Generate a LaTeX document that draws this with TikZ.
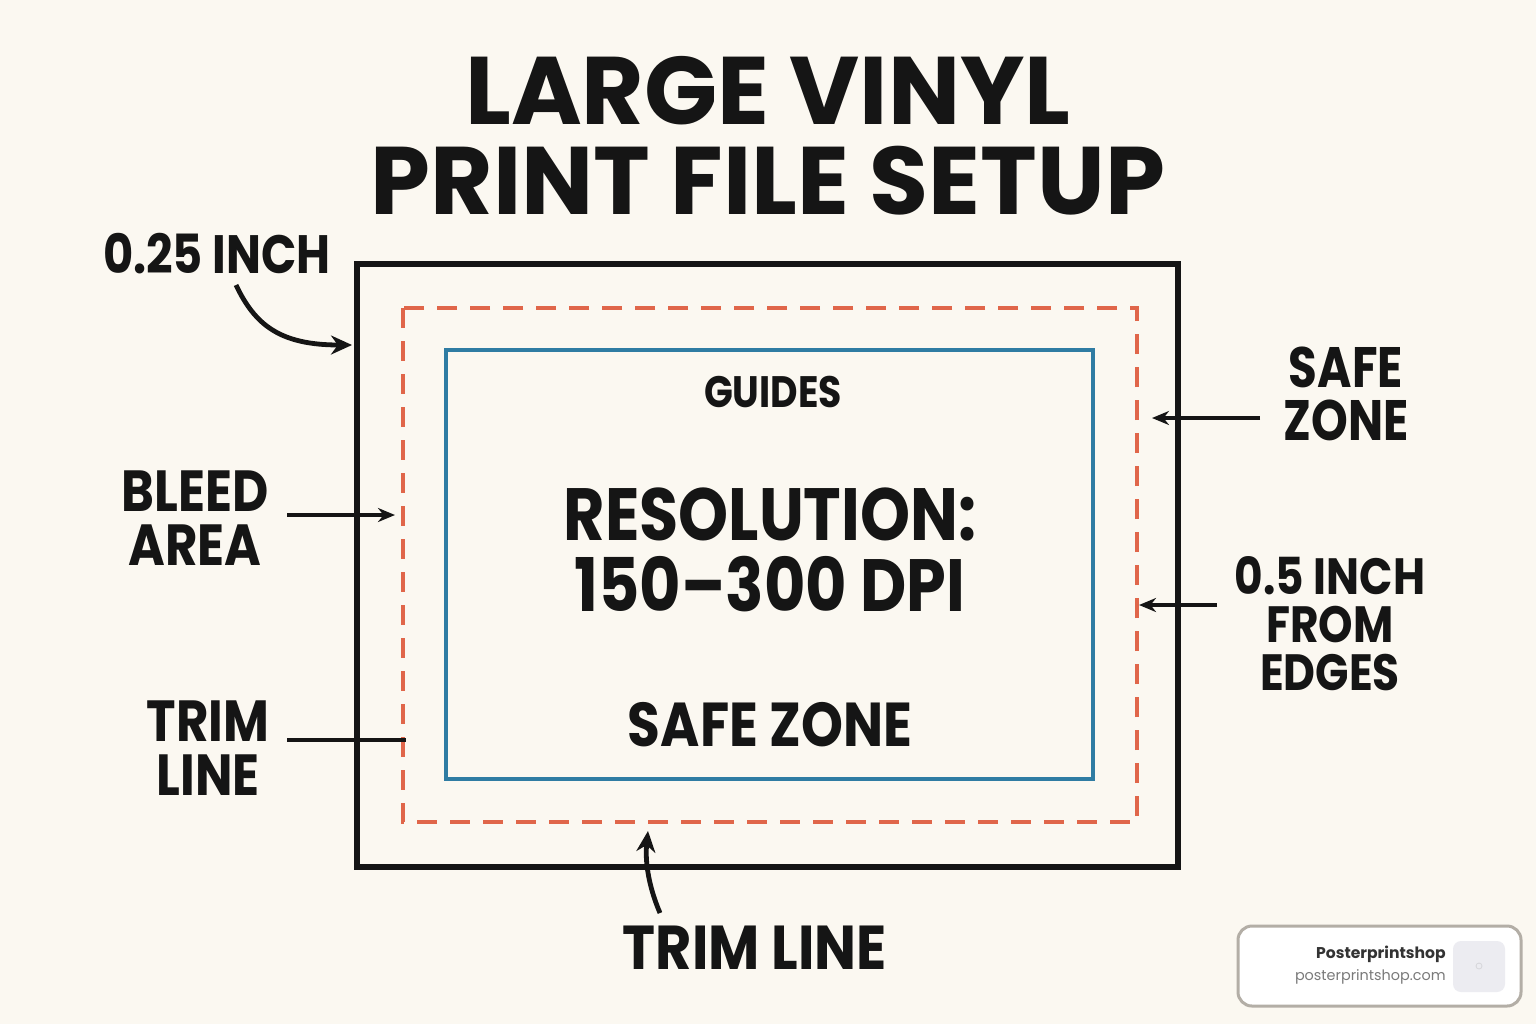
\documentclass[tikz,border=0pt]{standalone}
\usepackage{fontspec}
\setmainfont{Poppins}
\newfontfamily\tagfont[FakeStretch=0.86, Ligatures=TeX]{Poppins}
\newfontfamily\slimfont[FakeStretch=0.82, Ligatures=TeX]{Poppins}
\newfontfamily\edgefont[FakeStretch=0.86, Ligatures=TeX]{Poppins}
\newfontfamily\widefont[FakeStretch=0.9, Ligatures=TeX]{Poppins}
\usetikzlibrary{arrows.meta,positioning}

\definecolor{paper}{HTML}{FBF8F1}
\definecolor{ink}{HTML}{151515}
\definecolor{bleedred}{HTML}{E0664A}
\definecolor{safeblue}{HTML}{2F7CA3}
\definecolor{badgeline}{HTML}{B3AEA6}
\definecolor{badgetext}{HTML}{333333}
\definecolor{badgeurl}{HTML}{7A7A7A}
\definecolor{iconbg}{HTML}{ECECF1}

\begin{document}
\begin{tikzpicture}[x=0.5pt, y=-0.5pt,
    tag/.style={text=ink, align=center, inner sep=0pt},
    pointer/.style={draw=ink, line width=2.4pt, -{Stealth[length=8.5pt, width=7pt]}},
    bender/.style={draw=ink, line width=2.4pt, -{Stealth[length=10.5pt, width=9.5pt]}},
    leader/.style={draw=ink, line width=2.4pt}
]
    % Background
    \fill[paper] (0,0) rectangle (1536,1024);
    \useasboundingbox (0,0) rectangle (1536,1024);

    % Sheet, bleed and safe frames
    \draw[ink, line width=2.6pt] (357,264) rectangle (1178,867);
    \draw[bleedred, line width=2.3pt, dash pattern=on 10pt off 6.5pt] (403,308) rectangle (1137,822);
    \draw[safeblue, line width=2.2pt] (446,350) rectangle (1093,779);

    % Title
    \node[tag, font=\bfseries\fontsize{48}{45}\selectfont] (title) at (768,136) {LARGE VINYL\\PRINT FILE SETUP};

    % Inner texts
    \node[tag, font=\tagfont\bfseries\fontsize{22}{22}\selectfont] (guides) at (773,392) {GUIDES};
    \node[tag, font=\tagfont\bfseries\fontsize{37}{35.5}\selectfont] (res) at (770,550) {RESOLUTION:\\150--300 DPI};
    \node[tag, font=\tagfont\bfseries\fontsize{31}{31}\selectfont] (safein) at (770,725) {SAFE ZONE};

    % Side labels
    \node[tag, font=\tagfont\bfseries\fontsize{27}{27}\selectfont] (inch25) at (217,254) {0.25 INCH};
    \node[tag, font=\tagfont\bfseries\fontsize{29}{27}\selectfont] (bleed) at (195,518) {BLEED\\AREA};
    \node[tag, font=\tagfont\bfseries\fontsize{29}{27}\selectfont] (trimleft) at (208,748) {TRIM\\LINE};
    \node[tag, font=\slimfont\bfseries\fontsize{28.5}{26.5}\selectfont] (safeout) at (1346,394) {SAFE\\ZONE};
    \node[tag, font=\edgefont\bfseries\fontsize{25.5}{24}\selectfont] (inch05) at (1330,624) {0.5 INCH\\FROM\\EDGES};
    \node[tag, font=\widefont\bfseries\fontsize{31}{31}\selectfont] (trimlow) at (755,948) {TRIM LINE};

    % Connector ends
    \coordinate (inchfrom) at (236,285);
    \coordinate (inchto) at (352,345);
    \coordinate (bleedfrom) at (287,515);
    \coordinate (bleedto) at (395,515);
    \coordinate (trimfrom) at (287,740);
    \coordinate (trimto) at (406,740);
    \coordinate (safefrom) at (1260,418);
    \coordinate (safeto) at (1152,418);
    \coordinate (edgefrom) at (1217,605);
    \coordinate (edgeto) at (1139,605);
    \coordinate (lowfrom) at (660,913);
    \coordinate (lowto) at (648,831);

    % Connectors
    \draw[bender] (inchfrom) .. controls (255,325) and (280,345) .. (inchto);
    \draw[pointer] (bleedfrom) -- (bleedto);
    \draw[leader] (trimfrom) -- (trimto);
    \draw[pointer] (safefrom) -- (safeto);
    \draw[pointer] (edgefrom) -- (edgeto);
    \draw[bender] (lowfrom) .. controls (648,885) and (645,860) .. (lowto);

    % Badge
    \draw[badgeline, fill=white, line width=1.5pt, rounded corners=7pt] (1238,926) rectangle (1521,1006);
    \fill[iconbg, rounded corners=4pt] (1453,941) rectangle (1505,992);
    \draw[iconbg!80!gray, line width=0.4pt] (1479,966) circle (3);
    \node[anchor=east, inner sep=0pt, font=\bfseries\fontsize{7.8}{10}\selectfont, text=badgetext] (brand) at (1446,954) {Posterprintshop};
    \node[anchor=east, inner sep=0pt, font=\fontsize{7.2}{10}\selectfont, text=badgeurl] (url) at (1446,977) {posterprintshop.com};
\end{tikzpicture}
\end{document}
